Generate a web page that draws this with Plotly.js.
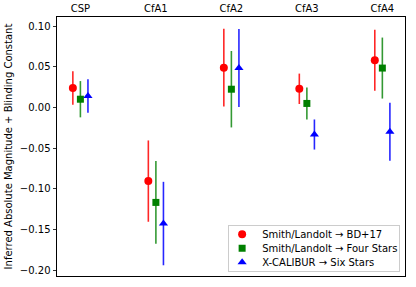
<!DOCTYPE html>
<html>
<head>
<meta charset="utf-8">
<script src="https://cdn.plot.ly/plotly-3.0.1.min.js"></script>
<style>html,body{margin:0;padding:0;background:#fff;}#chart{width:416px;height:287px;}</style>
</head>
<body>
<div id="chart"></div>
<script>
const categories = ['CSP', 'CfA1', 'CfA2', 'CfA3', 'CfA4'];
const seriesNames = ['Smith/Landolt \u2192 BD+17', 'Smith/Landolt \u2192 Four Stars', 'X-CALIBUR \u2192 Six Stars'];
const bd17 = [0.024, -0.0905, 0.049, 0.023, 0.058];
const bd17Err = [0.0205, 0.050, 0.0478, 0.0187, 0.0375];
const fourStars = [0.0102, -0.1167, 0.0225, 0.005, 0.0485];
const fourStarsErr = [0.0223, 0.0508, 0.047, 0.0197, 0.0375];
const sixStars = [0.0141, -0.1427, 0.0485, -0.0332, -0.0298];
const sixStarsErr = [0.0207, 0.0513, 0.048, 0.0185, 0.0358];
const yTicks = [0.10, 0.05, 0.00, -0.05, -0.10, -0.15, -0.20];

const idx = categories.map((c, i) => i);
const styles = [
  {color: '#ff0000', err: 'rgba(255,0,0,0.85)', symbol: 'circle', size: 8, off: -0.1},
  {color: '#008000', err: 'rgba(0,128,0,0.8)', symbol: 'square', size: 7, off: 0},
  {color: '#0000ff', err: 'rgba(0,0,255,0.85)', symbol: 'triangle-up', size: 8, off: 0.1}
];
const vals = [bd17, fourStars, sixStars];
const errs = [bd17Err, fourStarsErr, sixStarsErr];

const traces = vals.map((v, k) => ({
  type: 'scatter',
  mode: 'markers',
  name: seriesNames[k],
  x: idx.map(i => i + styles[k].off),
  y: v,
  error_y: {type: 'data', array: errs[k], visible: true, color: styles[k].err, thickness: 1.6, width: 0},
  marker: {color: styles[k].color, symbol: styles[k].symbol, size: styles[k].size, line: {width: 0}}
}));

const layout = {
  width: 416, height: 287,
  margin: {l: 57, r: 11, t: 17, b: 11},
  paper_bgcolor: '#fff', plot_bgcolor: '#fff',
  font: {family: 'DejaVu Sans', size: 10, color: '#000'},
  showlegend: true,
  legend: {
    x: 0.986, y: 0.02, xanchor: 'right', yanchor: 'bottom',
    bordercolor: '#cccccc', borderwidth: 1, bgcolor: 'rgba(255,255,255,0.9)',
    font: {family: 'DejaVu Sans', size: 10, color: '#000'},
    tracegroupgap: 0, itemwidth: 30
  },
  xaxis: {
    side: 'top', range: [-0.31, 4.30],
    tickmode: 'array', tickvals: idx, ticktext: categories,
    ticks: '', showgrid: false, zeroline: false,
    showline: true, mirror: true, linecolor: '#000', linewidth: 1,
    tickfont: {family: 'DejaVu Sans', size: 10, color: '#000'}
  },
  yaxis: {
    range: [-0.2072, 0.1113],
    tickmode: 'array', tickvals: yTicks, ticktext: yTicks.map(t => t.toFixed(2).replace('-', '\u2212')),
    ticks: 'outside', ticklen: 3.5, tickwidth: 0.8, tickcolor: '#000',
    showgrid: false, zeroline: false,
    showline: true, mirror: true, linecolor: '#000', linewidth: 1,
    tickfont: {family: 'DejaVu Sans', size: 10, color: '#000'},
    title: {text: 'Inferred Absolute Magnitude + Blinding Constant', font: {family: 'DejaVu Sans', size: 10, color: '#000'}, standoff: 5}
  }
};

const TR = /translate\(\s*([-\d.eE]+)(?:[ ,]+([-\d.eE]+))?\s*\)/;
function getT(el) {
  const m = TR.exec(el.getAttribute('transform') || '');
  return m ? [parseFloat(m[1]), parseFloat(m[2] || 0)] : [0, 0];
}

Plotly.newPlot('chart', traces, layout, {staticPlot: true, displayModeBar: false}).then(gd => {
  // Compact the legend box (matplotlib-like row spacing)
  const leg = gd.querySelector('.legend');
  if (!leg) return;
  const bg = leg.querySelector('rect.bg');
  if (!bg) return;
  const items = leg.querySelectorAll('g.traces');
  const rowH = 14, newW = 171, newH = 46, padTop = 9, itemX = -6;
  const oldW = parseFloat(bg.getAttribute('width'));
  const oldH = parseFloat(bg.getAttribute('height'));
  items.forEach((it, i) => {
    it.setAttribute('transform', 'translate(' + itemX + ',' + (padTop + i * rowH) + ')');
  });
  bg.setAttribute('width', newW);
  bg.setAttribute('height', newH);
  const lt = getT(leg);
  leg.setAttribute('transform', 'translate(' + (lt[0] + oldW - newW) + ',' + (lt[1] + oldH - newH + 1.5) + ')');
});
</script>
</body>
</html>
